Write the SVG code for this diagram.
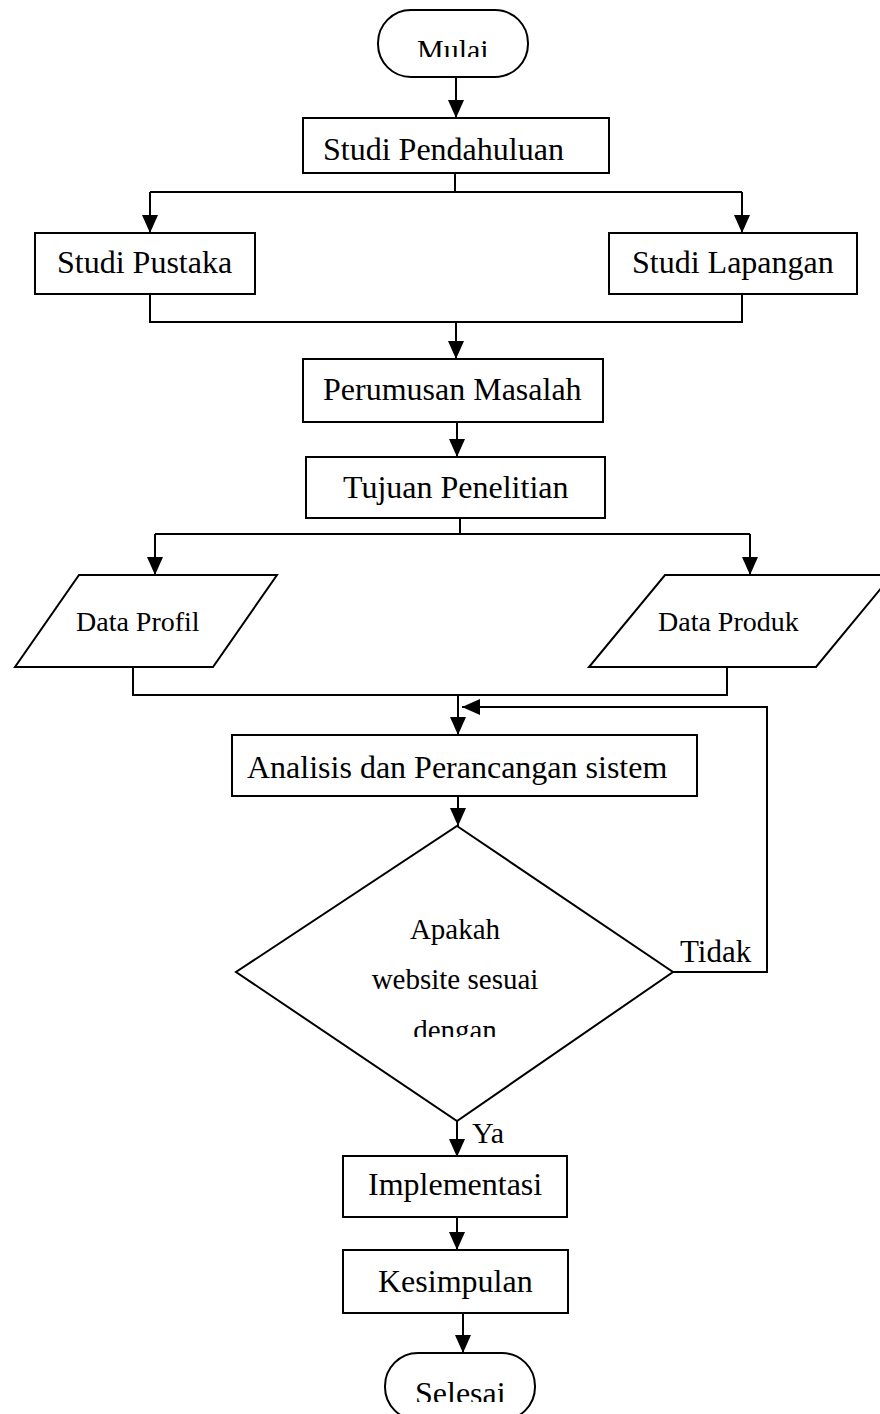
<svg xmlns="http://www.w3.org/2000/svg" width="880" height="1414" viewBox="0 0 880 1414">
<style>
.s{fill:#fff;stroke:#000;stroke-width:2}
.t{font-family:"Liberation Serif","Times New Roman",serif;font-size:32px;fill:#000}
.m{font-size:28px}
.c{stroke:#000;stroke-width:2;fill:none}
</style>
<defs>
<marker id="ah" markerUnits="userSpaceOnUse" markerWidth="18" markerHeight="18" viewBox="0 0 18 16" refX="18" refY="8" orient="auto">
<path d="M0,0 L18,8 L0,16 Z" fill="#000"/>
</marker>
<clipPath id="cMulai"><rect x="370" y="0" width="170" height="57"/></clipPath>
<clipPath id="cDengan"><rect x="380" y="1000" width="150" height="37"/></clipPath>
<clipPath id="cSelesai"><rect x="380" y="1360" width="170" height="42"/></clipPath>
</defs>
<rect width="880" height="1414" fill="#fff"/>
<g id="connectors">
<path class="c" d="M456,77 V118" marker-end="url(#ah)"/>
<path class="c" d="M455,173 V192"/>
<path class="c" d="M150,192 H742"/>
<path class="c" d="M150,192 V233" marker-end="url(#ah)"/>
<path class="c" d="M742,192 V233" marker-end="url(#ah)"/>
<path class="c" d="M150,294 V322 H742 V294"/>
<path class="c" d="M456,322 V359" marker-end="url(#ah)"/>
<path class="c" d="M457,422 V457" marker-end="url(#ah)"/>
<path class="c" d="M460,518 V534"/>
<path class="c" d="M155,534 H750"/>
<path class="c" d="M155,534 V575" marker-end="url(#ah)"/>
<path class="c" d="M750,534 V575" marker-end="url(#ah)"/>
<path class="c" d="M133,667 V695 H727 V667"/>
<path class="c" d="M458,695 V735" marker-end="url(#ah)"/>
<path class="c" d="M458,796 V826" marker-end="url(#ah)"/>
<path class="c" d="M673,972 H767 V707 H462" marker-end="url(#ah)"/>
<path class="c" d="M457,1121 V1157" marker-end="url(#ah)"/>
<path class="c" d="M457,1217 V1250" marker-end="url(#ah)"/>
<path class="c" d="M463,1313 V1353" marker-end="url(#ah)"/>
<text class="t" x="680" y="962" style="font-size:31px">Tidak</text>
<text class="t" x="472" y="1143" style="font-size:30px">Ya</text>
</g>
<g id="mulai">
<rect class="s" x="378" y="10" width="150" height="67" rx="33"/>
<text class="t" x="417" y="60" style="font-size:30px" clip-path="url(#cMulai)">Mulai</text>
</g>
<g id="studi-pendahuluan">
<rect class="s" x="303" y="118" width="306" height="55"/>
<text class="t" x="323" y="160">Studi Pendahuluan</text>
</g>
<g id="studi-pustaka">
<rect class="s" x="35" y="233" width="220" height="61"/>
<text class="t" x="57" y="273">Studi Pustaka</text>
</g>
<g id="studi-lapangan">
<rect class="s" x="609" y="233" width="248" height="61"/>
<text class="t" x="632" y="273">Studi Lapangan</text>
</g>
<g id="perumusan-masalah">
<rect class="s" x="303" y="359" width="300" height="63"/>
<text class="t" x="323" y="400">Perumusan Masalah</text>
</g>
<g id="tujuan-penelitian">
<rect class="s" x="306" y="457" width="299" height="61"/>
<text class="t" x="343" y="498">Tujuan Penelitian</text>
</g>
<g id="data-profil">
<polygon class="s" points="79,575 277,575 213,667 15,667"/>
<text class="t m" x="76" y="631">Data Profil</text>
</g>
<g id="data-produk">
<polygon class="s" points="665,575 892,575 816,667 589,667"/>
<text class="t m" x="658" y="631">Data Produk</text>
</g>
<g id="analisis">
<rect class="s" x="232" y="735" width="465" height="61"/>
<text class="t" x="247" y="778">Analisis dan Perancangan sistem</text>
</g>
<g id="keputusan">
<polygon class="s" points="457,826 673,972 457,1121 236,972"/>
<text class="t" x="455" y="939" text-anchor="middle" style="font-size:29px">Apakah</text>
<text class="t" x="455" y="989" text-anchor="middle" style="font-size:29px">website sesuai</text>
<text class="t" x="455" y="1040" text-anchor="middle" style="font-size:29px" clip-path="url(#cDengan)">dengan</text>
</g>
<g id="implementasi">
<rect class="s" x="343" y="1156" width="224" height="61"/>
<text class="t" x="368" y="1195">Implementasi</text>
</g>
<g id="kesimpulan">
<rect class="s" x="343" y="1250" width="225" height="63"/>
<text class="t" x="378" y="1292">Kesimpulan</text>
</g>
<g id="selesai">
<rect class="s" x="385" y="1353" width="150" height="67" rx="33"/>
<text class="t" x="415" y="1404" clip-path="url(#cSelesai)">Selesai</text>
</g>
</svg>
